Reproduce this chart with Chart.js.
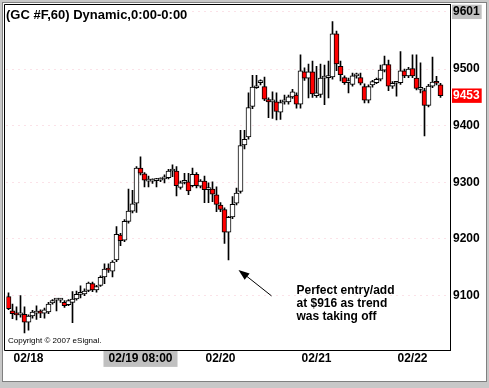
<!DOCTYPE html>
<html lang="en">
<head>
<meta charset="utf-8" />
<title>GC #F,60</title>
<script src="https://cdn.jsdelivr.net/npm/chart.js"></script>
<style>
  html, body { margin: 0; padding: 0; background: #fff; }
  #grafico { display: block; }
</style>
</head>
<body>
<canvas id="grafico" width="489" height="388"></canvas>
<script>
// hourly candles, 02/18 - 02/22 (price in tenths, as the axis shows them)
const opens = [
  9098, 9073, 9067, 9066, 9067, 9053, 9064, 9069, 9070, 9069,
  9071, 9087, 9092, 9092, 9088, 9084, 9088, 9094, 9102, 9103,
  9109, 9121, 9110, 9118, 9133, 9146, 9143, 9163, 9207, 9198,
  9231, 9249, 9263, 9325, 9315, 9302, 9302, 9303, 9304, 9306,
  9308, 9320, 9320, 9291, 9300, 9301, 9294, 9314, 9293, 9302,
  9287, 9288, 9278, 9260, 9252, 9212, 9239, 9263, 9284, 9366,
  9380, 9434, 9467, 9476, 9469, 9446, 9442, 9442, 9424, 9442,
  9442, 9451, 9454, 9438, 9495, 9484, 9495, 9453, 9455, 9484,
  9485, 9486, 9562, 9505, 9485, 9476, 9473, 9488, 9485, 9469,
  9445, 9472, 9476, 9482, 9498, 9508, 9470, 9475, 9476, 9497,
  9488, 9501, 9484, 9464, 9462, 9436, 9470, 9478, 9472
];
const highs = [
  9105, 9085, 9080, 9100, 9080, 9066, 9074, 9082, 9075, 9078,
  9088, 9093, 9094, 9095, 9091, 9093, 9107, 9108, 9117, 9112,
  9124, 9124, 9118, 9135, 9156, 9156, 9162, 9222, 9210, 9234,
  9288, 9286, 9328, 9345, 9317, 9311, 9306, 9307, 9308, 9313,
  9323, 9331, 9328, 9302, 9316, 9316, 9325, 9317, 9305, 9311,
  9299, 9301, 9292, 9264, 9255, 9240, 9275, 9290, 9392, 9392,
  9458, 9489, 9489, 9481, 9486, 9449, 9460, 9458, 9445, 9454,
  9454, 9464, 9458, 9525, 9502, 9509, 9514, 9505, 9509, 9507,
  9514, 9584, 9567, 9514, 9488, 9484, 9493, 9493, 9493, 9474,
  9472, 9480, 9484, 9507, 9523, 9516, 9478, 9478, 9531, 9500,
  9503, 9525, 9525, 9511, 9466, 9473, 9521, 9487, 9475
];
const lows = [
  9075, 9059, 9057, 9062, 9034, 9039, 9060, 9058, 9061, 9060,
  9068, 9085, 9073, 9088, 9079, 9082, 9052, 9092, 9096, 9100,
  9107, 9107, 9106, 9116, 9121, 9141, 9133, 9160, 9188, 9195,
  9228, 9246, 9247, 9313, 9292, 9292, 9298, 9292, 9301, 9299,
  9306, 9310, 9276, 9288, 9297, 9278, 9292, 9290, 9290, 9264,
  9264, 9266, 9248, 9248, 9192, 9163, 9236, 9260, 9281, 9359,
  9376, 9430, 9466, 9472, 9444, 9414, 9413, 9410, 9411, 9438,
  9438, 9448, 9431, 9431, 9480, 9449, 9450, 9450, 9450, 9437,
  9449, 9482, 9497, 9479, 9473, 9458, 9470, 9484, 9472, 9440,
  9440, 9468, 9474, 9479, 9495, 9462, 9466, 9452, 9473, 9485,
  9485, 9485, 9463, 9458, 9382, 9433, 9467, 9472, 9450
];
const closes = [
  9077, 9068, 9066, 9067, 9053, 9064, 9071, 9070, 9069, 9075,
  9085, 9091, 9092, 9093, 9082, 9091, 9094, 9102, 9103, 9108,
  9122, 9110, 9116, 9132, 9147, 9145, 9159, 9208, 9197, 9231,
  9249, 9262, 9325, 9316, 9304, 9302, 9303, 9304, 9306, 9308,
  9320, 9321, 9294, 9299, 9301, 9285, 9314, 9294, 9302, 9287,
  9288, 9279, 9261, 9252, 9212, 9238, 9261, 9281, 9365, 9376,
  9432, 9468, 9470, 9477, 9447, 9442, 9443, 9425, 9441, 9443,
  9451, 9460, 9438, 9497, 9484, 9495, 9456, 9458, 9484, 9485,
  9486, 9562, 9509, 9490, 9476, 9477, 9488, 9489, 9475, 9445,
  9469, 9478, 9482, 9498, 9508, 9470, 9475, 9476, 9497, 9488,
  9500, 9488, 9466, 9465, 9436, 9470, 9477, 9475, 9453
];

// axis labels
const xTickIdx = [5, 33, 53, 77, 101];
const xTickText = ['02/18', '02/19 08:00', '02/20', '02/21', '02/22'];
const cursorIdx = 33;
const yTicks = [9100, 9200, 9300, 9400, 9453, 9500, 9601];
const lastPrice = 9453;
const cursorPrice = 9601;
const yMin = 9003;
const yMax = 9614;

const titulo = '(GC #F,60) Dynamic,0:00-0:00';
const copyright = 'Copyright \u00A9 2007 eSignal.';
const nota = ['Perfect entry/add', 'at $916 as trend', 'was taking off'];
const notaIdx = 55; // candle the arrow points at

const fonte = "'Liberation Sans', Arial, sans-serif";

const labels = Array.from({ length: opens.length + 2 }, (_, i) => i);
const corpos = opens.map((o, i) => [Math.min(o, closes[i]), Math.max(o, closes[i])]);
const pavios = lows.map((l, i) => [l, highs[i]]);
const cores = opens.map((o, i) => closes[i] < o ? '#ff0000' : '#ffffff');

// frame, title, copyright and the arrow note
const extras = {
  id: 'extras',
  beforeDraw(chart) {
    const { ctx, width, height } = chart;
    ctx.save();
    ctx.fillStyle = '#c8c8c8';
    ctx.fillRect(0, 0, width, height);
    ctx.fillStyle = '#ffffff';
    ctx.fillRect(3, 3, width - 6, height - 10);
    ctx.strokeStyle = '#808080';
    ctx.lineWidth = 1;
    ctx.strokeRect(2.5, 2.5, width - 5, height - 9);
    ctx.restore();
  },
  afterDraw(chart) {
    const { ctx, chartArea: a, scales: { x, y } } = chart;
    ctx.save();
    ctx.strokeStyle = '#000';
    ctx.lineWidth = 1;
    ctx.beginPath();
    ctx.moveTo(a.right, a.top);
    ctx.lineTo(4.5, a.top);
    ctx.lineTo(4.5, a.bottom);
    ctx.lineTo(a.right, a.bottom);
    ctx.stroke();

    ctx.font = 'bold 13px ' + fonte;
    ctx.textBaseline = 'middle';
    const tw = ctx.measureText(titulo).width;
    ctx.fillStyle = '#fff';
    ctx.fillRect(5.5, a.top + 1, tw + 3, 15);
    ctx.fillStyle = '#000';
    ctx.fillText(titulo, 6, a.top + 10.5);

    ctx.font = '8px ' + fonte;
    ctx.fillText(copyright, 8, a.bottom - 10);

    const tipX = x.getPixelForValue(notaIdx) + 10;
    const tipY = y.getPixelForValue(lows[notaIdx]) + 10;
    const tailX = tipX + 33;
    const tailY = tipY + 26;
    ctx.beginPath();
    ctx.moveTo(tailX, tailY);
    ctx.lineTo(tipX + 4, tipY + 3);
    ctx.stroke();
    const ang = Math.atan2(tipY - tailY, tipX - tailX);
    const L = 11, W = 4;
    ctx.beginPath();
    ctx.moveTo(tipX, tipY);
    ctx.lineTo(tipX - L * Math.cos(ang) + W * Math.sin(ang), tipY - L * Math.sin(ang) - W * Math.cos(ang));
    ctx.lineTo(tipX - L * Math.cos(ang) - W * Math.sin(ang), tipY - L * Math.sin(ang) + W * Math.cos(ang));
    ctx.closePath();
    ctx.fill();

    ctx.font = 'bold 12px ' + fonte;
    nota.forEach((t, k) => ctx.fillText(t, tailX + 25, tailY - 5 + 13 * k));
    ctx.restore();
  }
};

new Chart(document.getElementById('grafico'), {
  type: 'bar',
  data: {
    labels: labels,
    datasets: [
      {
        data: corpos,
        backgroundColor: cores,
        borderColor: '#000',
        borderWidth: 1,
        borderSkipped: false,
        barThickness: 5,
        minBarLength: 2,
        grouped: false,
        order: 0
      },
      {
        data: pavios,
        backgroundColor: '#000',
        borderWidth: 0,
        barThickness: 1,
        grouped: false,
        order: 1
      }
    ]
  },
  options: {
    responsive: false,
    animation: false,
    layout: { padding: { left: 6.5, top: 4.5, right: 4.5, bottom: 10.5 } },
    plugins: { legend: { display: false }, tooltip: { enabled: false } },
    scales: {
      x: {
        offset: true,
        grid: { display: false, drawTicks: false },
        border: { display: false },
        ticks: {
          autoSkip: false,
          maxRotation: 0,
          minRotation: 0,
          padding: 1,
          color: '#000',
          font: { family: fonte, size: 12, weight: 'bold' },
          callback: (v, i) => {
            const k = xTickIdx.indexOf(i);
            return k < 0 ? '' : xTickText[k];
          },
          showLabelBackdrop: ctx => ctx.index === cursorIdx,
          backdropColor: '#c0c0c0',
          backdropPadding: { top: 1, bottom: 1, left: 5, right: 5 }
        },
        afterFit: s => { s.height = 27; s.paddingLeft = 0; s.paddingRight = 0; }
      },
      y: {
        position: 'right',
        min: yMin,
        max: yMax,
        afterBuildTicks: s => { s.ticks = yTicks.map(v => ({ value: v })); },
        grid: {
          color: ctx => (ctx.tick && ctx.tick.value === lastPrice) ? 'rgba(0,0,0,0)' : '#f6c4d0',
          drawTicks: false,
          lineWidth: 1
        },
        border: { display: true, color: '#000', dash: [1, 5] },
        ticks: {
          padding: 2.5,
          color: ctx => ctx.tick.value === lastPrice ? '#fff' : '#000',
          font: { family: fonte, size: 12, weight: 'bold' },
          callback: v => String(v),
          showLabelBackdrop: ctx => ctx.tick.value === lastPrice || ctx.tick.value === cursorPrice,
          backdropColor: ctx => ctx.tick.value === lastPrice ? '#ff0000' : '#c0c0c0',
          backdropPadding: { top: 0, bottom: 0, left: 1, right: 2 }
        },
        afterFit: s => { s.width = 34; s.paddingTop = 0; s.paddingBottom = 0; }
      }
    }
  },
  plugins: [extras]
});
</script>
</body>
</html>
